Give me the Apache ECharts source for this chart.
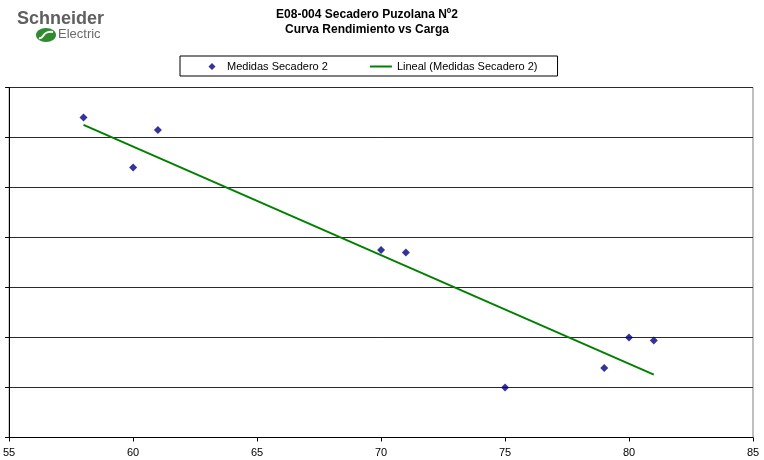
<!DOCTYPE html>
<html>
<head>
<meta charset="utf-8">
<script src="https://cdn.jsdelivr.net/npm/echarts@6/dist/echarts.min.js"></script>
<style>
  html, body { margin: 0; padding: 0; background: #fff; }
  #chart { width: 764px; height: 460px; }
</style>
</head>
<body>
<div id="chart"></div>
<script>
// Load (carga) measurements and the measured efficiency for dryer 2
const carga = [58, 60, 61, 70, 71, 75, 79, 80, 81];
const rendimiento = [6.4, 5.4, 6.15, 3.75, 3.7, 1.0, 1.39, 2.0, 1.94];

// Axis ranges and tick labels
const xTicks = [55, 60, 65, 70, 75, 80, 85];
const yRange = [0, 7];

const serieMedidas = 'Medidas Secadero 2';
const serieLineal = 'Lineal (Medidas Secadero 2)';

// Least-squares linear trend through the measurements
function linearFit(xs, ys) {
  const n = xs.length;
  const mx = xs.reduce((a, b) => a + b, 0) / n;
  const my = ys.reduce((a, b) => a + b, 0) / n;
  let sxy = 0, sxx = 0;
  for (let i = 0; i < n; i++) {
    sxy += (xs[i] - mx) * (ys[i] - my);
    sxx += (xs[i] - mx) * (xs[i] - mx);
  }
  const slope = sxy / sxx;
  return { slope, intercept: my - slope * mx };
}
const fit = linearFit(carga, rendimiento);
const xMin = Math.min(...carga), xMax = Math.max(...carga);
const trend = [
  [xMin, fit.intercept + fit.slope * xMin],
  [xMax, fit.intercept + fit.slope * xMax]
];

const font = 'Liberation Sans, Arial, sans-serif';
const chart = echarts.init(document.getElementById('chart'), null, { renderer: 'canvas' });

// Legend icons: a small diamond centred in a 22px slot (tiny end specks keep the slot width)
const diamondIcon = 'path://M0,3.99 L0.01,3.99 L0.01,4.01 Z M12,0.5 L15.5,4 L12,7.5 L8.5,4 Z M21.99,3.99 L22,3.99 L22,4.01 Z';
const lineIcon = 'path://M0,3 L22,3 L22,5 L0,5 Z';

chart.setOption({
  animation: false,
  backgroundColor: '#ffffff',
  textStyle: { fontFamily: font },
  title: {
    text: 'E08-004 Secadero Puzolana Nº2\nCurva Rendimiento vs Carga',
    left: 362,
    top: 2,
    textAlign: 'center',
    textStyle: { fontFamily: font, fontSize: 12, fontWeight: 'bold', color: '#000', lineHeight: 15 }
  },
  legend: {
    left: 180,
    top: 56,
    padding: [5, 20, 4, 20],
    itemGap: 42,
    itemWidth: 22,
    itemHeight: 8,
    borderColor: '#000',
    borderWidth: 1,
    textStyle: { fontFamily: font, fontSize: 11, color: '#000' },
    data: [
      { name: serieMedidas, icon: diamondIcon },
      { name: serieLineal, icon: lineIcon }
    ]
  },
  grid: {
    left: 7.5,
    right: 11,
    top: 87.5,
    bottom: 22.5,
    show: true,
    borderColor: '#808080',
    borderWidth: 1,
    containLabel: false
  },
  xAxis: {
    type: 'value',
    min: xTicks[0],
    max: xTicks[xTicks.length - 1],
    interval: 5,
    axisLine: { lineStyle: { color: '#000', width: 1 } },
    axisTick: { show: true, length: 4, inside: false, lineStyle: { color: '#000' } },
    axisLabel: { fontFamily: font, fontSize: 11, color: '#000', margin: 10 },
    splitLine: { show: false }
  },
  yAxis: {
    type: 'value',
    min: yRange[0],
    max: yRange[1],
    interval: 1,
    axisLine: { show: true, lineStyle: { color: '#000', width: 1 } },
    axisTick: { show: true, length: 4, inside: false, lineStyle: { color: '#000' } },
    axisLabel: { show: false },
    splitLine: { show: true, lineStyle: { color: '#2a2a2a', width: 1 } }
  },
  series: [
    {
      name: serieMedidas,
      type: 'scatter',
      symbol: 'diamond',
      symbolSize: 8,
      itemStyle: { color: '#000080' },
      data: carga.map((x, i) => [x, rendimiento[i]]),
      z: 3
    },
    {
      name: serieLineal,
      type: 'line',
      symbol: 'none',
      lineStyle: { color: '#008000', width: 2 },
      itemStyle: { color: '#008000' },
      data: trend,
      z: 2
    }
  ],
  graphic: [
    {
      type: 'text',
      left: 17,
      top: 10,
      style: { text: 'Schneider', font: 'bold 18px ' + font, fill: '#5f5f5f' }
    },
    {
      type: 'ellipse',
      shape: { cx: 46, cy: 35, rx: 10, ry: 7 },
      style: { fill: '#2e8b2e' }
    },
    {
      type: 'bezierCurve',
      shape: { x1: 39, y1: 38, cpx1: 44, cpy1: 40, cpx2: 42, cpy2: 30, x2: 53, y2: 32 },
      style: { stroke: '#ffffff', lineWidth: 2, fill: null }
    },
    {
      type: 'text',
      left: 58,
      top: 28,
      style: { text: 'Electric', font: '13px ' + font, fill: '#6a6a6a' }
    }
  ]
});
</script>
</body>
</html>
